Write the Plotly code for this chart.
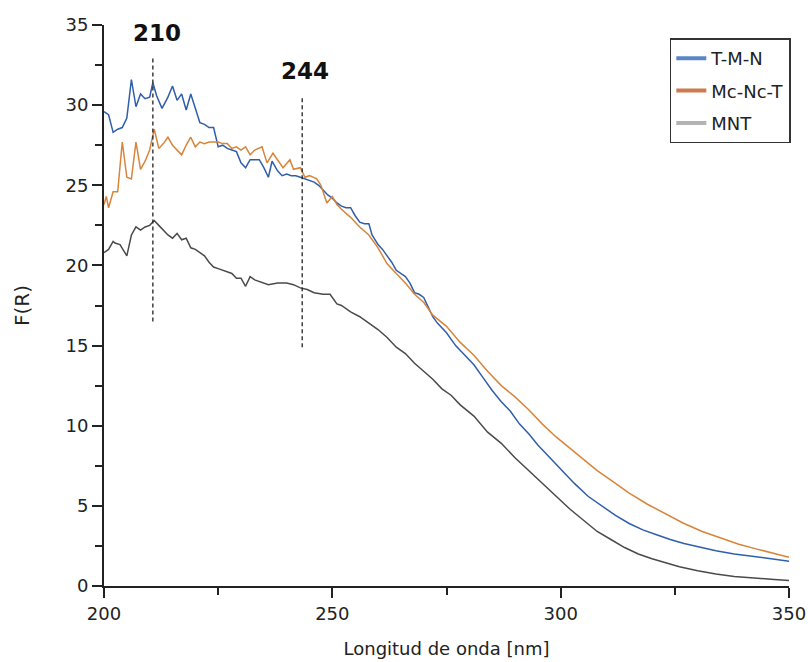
import plotly.graph_objects as go

# ---------------- data ----------------
tmn_x = [200, 201, 202, 203, 204, 205, 206, 207, 208, 209, 210, 210.7, 211.5, 212.7, 214, 215, 216, 217,
         218, 219, 220, 221, 222, 223, 224, 225, 226, 227, 228, 229, 230, 231, 232, 233, 234, 235, 236,
         236.8, 238, 239, 240, 241, 242, 243, 244, 245, 246, 247, 248, 249, 250, 251, 252, 253, 254, 255,
         256, 257, 258, 258.7, 260, 261, 262, 263, 264, 265, 266, 267, 268, 269, 270, 271, 272, 273, 275,
         277, 279, 281, 283, 285, 287, 289, 291, 293, 295, 297, 299, 301, 303, 306, 309, 312, 315, 318,
         321, 324, 327, 330, 334, 338, 342, 346, 350]
tmn_y = [29.6, 29.4, 28.3, 28.5, 28.6, 29.2, 31.6, 29.9, 30.7, 30.4, 30.5, 31.4, 30.6, 29.8, 30.5, 31.2, 30.3, 30.7,
         29.7, 30.7, 29.8, 28.9, 28.8, 28.6, 28.6, 27.4, 27.5, 27.3, 27.2, 27.1, 26.4, 26.1, 26.6, 26.6, 26.6, 26.1, 25.5,
         26.5, 25.9, 25.6, 25.7, 25.6, 25.6, 25.5, 25.4, 25.3, 25.2, 25.0, 24.7, 24.4, 24.2, 23.9, 23.7, 23.6, 23.6, 23.1,
         22.7, 22.6, 22.6, 21.9, 21.3, 21.0, 20.6, 20.2, 19.7, 19.5, 19.3, 18.9, 18.3, 18.2, 18.0, 17.4, 16.8, 16.4, 15.8,
         15.0, 14.4, 13.8, 13.0, 12.2, 11.5, 10.9, 10.1, 9.5, 8.8, 8.2, 7.6, 7.0, 6.4, 5.6, 5.0, 4.4, 3.9, 3.5,
         3.2, 2.9, 2.65, 2.45, 2.2, 2.0, 1.85, 1.7, 1.55]

mcnct_x = [200, 200.5, 201, 202, 203, 204, 205, 206, 207, 208, 209, 210, 211, 212, 213, 214, 215, 216, 217, 218,
           219, 220, 221, 222, 223, 224, 225, 226, 227, 228, 229, 230, 231, 232, 233, 234.6, 235.7, 237, 238,
           239.2, 240.7, 241.5, 243, 244, 245, 246.6, 247.5, 248.8, 250, 251, 252, 254, 256, 258, 260, 262,
           264, 266, 268, 270, 272, 275, 278, 281, 284, 287, 290, 293, 296, 299, 302, 305, 308, 311, 315, 319,
           323, 327, 331, 335, 339, 343, 347, 350]
mcnct_y = [23.8, 24.3, 23.6, 24.6, 24.6, 27.7, 25.5, 25.4, 27.7, 26.0, 26.5, 27.2, 28.5, 27.3, 27.6, 28.0, 27.5, 27.2, 26.9, 27.5,
           28.0, 27.4, 27.7, 27.6, 27.7, 27.7, 27.7, 27.6, 27.6, 27.3, 27.4, 27.2, 27.4, 26.9, 27.2, 27.4, 26.4, 27.0, 26.6,
           26.1, 26.6, 26.0, 26.1, 25.5, 25.6, 25.4, 25.0, 23.9, 24.3, 23.8, 23.5, 23.0, 22.4, 21.9, 21.1, 20.1,
           19.5, 18.9, 18.2, 17.7, 16.9, 16.2, 15.2, 14.4, 13.4, 12.5, 11.8, 11.0, 10.1, 9.3, 8.6, 7.9, 7.2, 6.6, 5.8, 5.1,
           4.5, 3.9, 3.4, 3.0, 2.6, 2.3, 2.0, 1.8]

mnt_x = [200, 201, 202, 202.4, 203.5, 205, 206, 207, 208, 209, 210, 211, 212, 213, 214, 215, 216, 217, 218, 219,
         220, 221, 222, 223, 224, 225, 226, 227, 228, 229, 230, 231, 232, 233, 234, 236, 238, 240, 241.5, 243,
         244.5, 246, 248, 249.5, 251, 252, 254, 256, 258, 260, 262, 264, 266, 268, 270, 272, 274, 276, 278, 281,
         284, 287, 290, 293, 296, 299, 302, 305, 308, 311, 314, 317, 320, 323, 326, 330, 334, 338, 342, 346, 350]
mnt_y = [20.8, 21.0, 21.5, 21.4, 21.3, 20.6, 21.9, 22.4, 22.2, 22.4, 22.5, 22.8, 22.5, 22.2, 21.9, 21.7, 22.0, 21.6, 21.7, 21.1,
         21.0, 20.8, 20.6, 20.2, 19.9, 19.8, 19.7, 19.6, 19.5, 19.2, 19.2, 18.7, 19.3, 19.1, 19.0, 18.8, 18.9, 18.9, 18.8, 18.6,
         18.5, 18.3, 18.2, 18.2, 17.6, 17.5, 17.1, 16.8, 16.4, 16.0, 15.5, 14.9, 14.5, 13.9, 13.4, 12.9, 12.3, 11.9, 11.3, 10.6,
         9.6, 8.9, 8.0, 7.2, 6.4, 5.6, 4.8, 4.1, 3.4, 2.9, 2.4, 2.0, 1.7, 1.45, 1.2, 0.95, 0.75, 0.6, 0.5, 0.42, 0.35]

series_names = ["T-M-N", "Mc-Nc-T", "MNT"]
peak_labels = ["210", "244"]
peak_x = [210.7, 243.4]
peak_line_bottom = [16.5, 14.9]
peak_line_top = [33.1, 30.6]
peak_label_x = [211.6, 244.0]
peak_label_y = [34.5, 32.1]

# ---------------- styles ----------------
line_colors = ["#2f5eaa", "#d8843a", "#4a4a4a"]
legend_colors = ["#5a86c6", "#cf7a4e", "#b3b3b3"]
FONT = "DejaVu Sans, sans-serif"

fig = go.Figure()
for xs, ys, c, n in zip([tmn_x, mcnct_x, mnt_x], [tmn_y, mcnct_y, mnt_y], line_colors, series_names):
    fig.add_trace(go.Scatter(x=xs, y=ys, mode="lines", line=dict(color=c, width=1.5),
                             showlegend=False, name=n))
for i, (c, n) in enumerate(zip(legend_colors, series_names)):
    fig.add_trace(go.Scatter(x=[None], y=[None], mode="lines", line=dict(color=c, width=4),
                             name=n, legendgroup=f"g{i}", showlegend=True))

for px, y0, y1, lab, lx, ly in zip(peak_x, peak_line_bottom, peak_line_top, peak_labels, peak_label_x, peak_label_y):
    fig.add_shape(type="line", xref="x", yref="y", x0=px, x1=px, y0=y0, y1=y1,
                  line=dict(color="#222", width=1.3, dash="4px,3px"))
    fig.add_annotation(x=lx, y=ly, xref="x", yref="y", text=f"<b>{lab}</b>", showarrow=False,
                       font=dict(family=FONT, size=23, color="#111"))

fig.update_layout(
    width=808, height=662,
    margin=dict(l=104, r=19, t=25, b=76, autoexpand=False),
    paper_bgcolor="white", plot_bgcolor="white",
    font=dict(family=FONT, color="#222"),
    legend=dict(x=0.826, y=0.976, xanchor="left", yanchor="top",
                bordercolor="#333", borderwidth=1.5, bgcolor="white",
                font=dict(family=FONT, size=18, color="#222"),
                tracegroupgap=6),
    xaxis=dict(range=[200, 350], tickvals=[200, 250, 300, 350], showline=True, linecolor="#222", linewidth=2,
               ticks="outside", ticklen=10, tickwidth=2, tickcolor="#222", showgrid=False, zeroline=False,
               automargin=False,
               tickfont=dict(family=FONT, size=18, color="#222"),
               minor=dict(tickvals=[225, 275, 325], ticks="outside", ticklen=7, tickwidth=2, tickcolor="#222", showgrid=False),
               title=dict(text="Longitud de onda [nm]", font=dict(family=FONT, size=18, color="#222"), standoff=20)),
    yaxis=dict(range=[0, 35], tickvals=[0, 5, 10, 15, 20, 25, 30, 35], showline=True, linecolor="#222", linewidth=2,
               ticks="outside", ticklen=10, tickwidth=2, tickcolor="#222", showgrid=False, zeroline=False,
               automargin=False,
               tickfont=dict(family=FONT, size=18, color="#222"),
               minor=dict(tickvals=[2.5, 7.5, 12.5, 17.5, 22.5, 27.5, 32.5], ticks="outside", ticklen=7, tickwidth=2,
                          tickcolor="#222", showgrid=False),
               title=dict(text="F(R)", font=dict(family=FONT, size=20, color="#222"), standoff=30)),
)

fig.write_html("out.html")
